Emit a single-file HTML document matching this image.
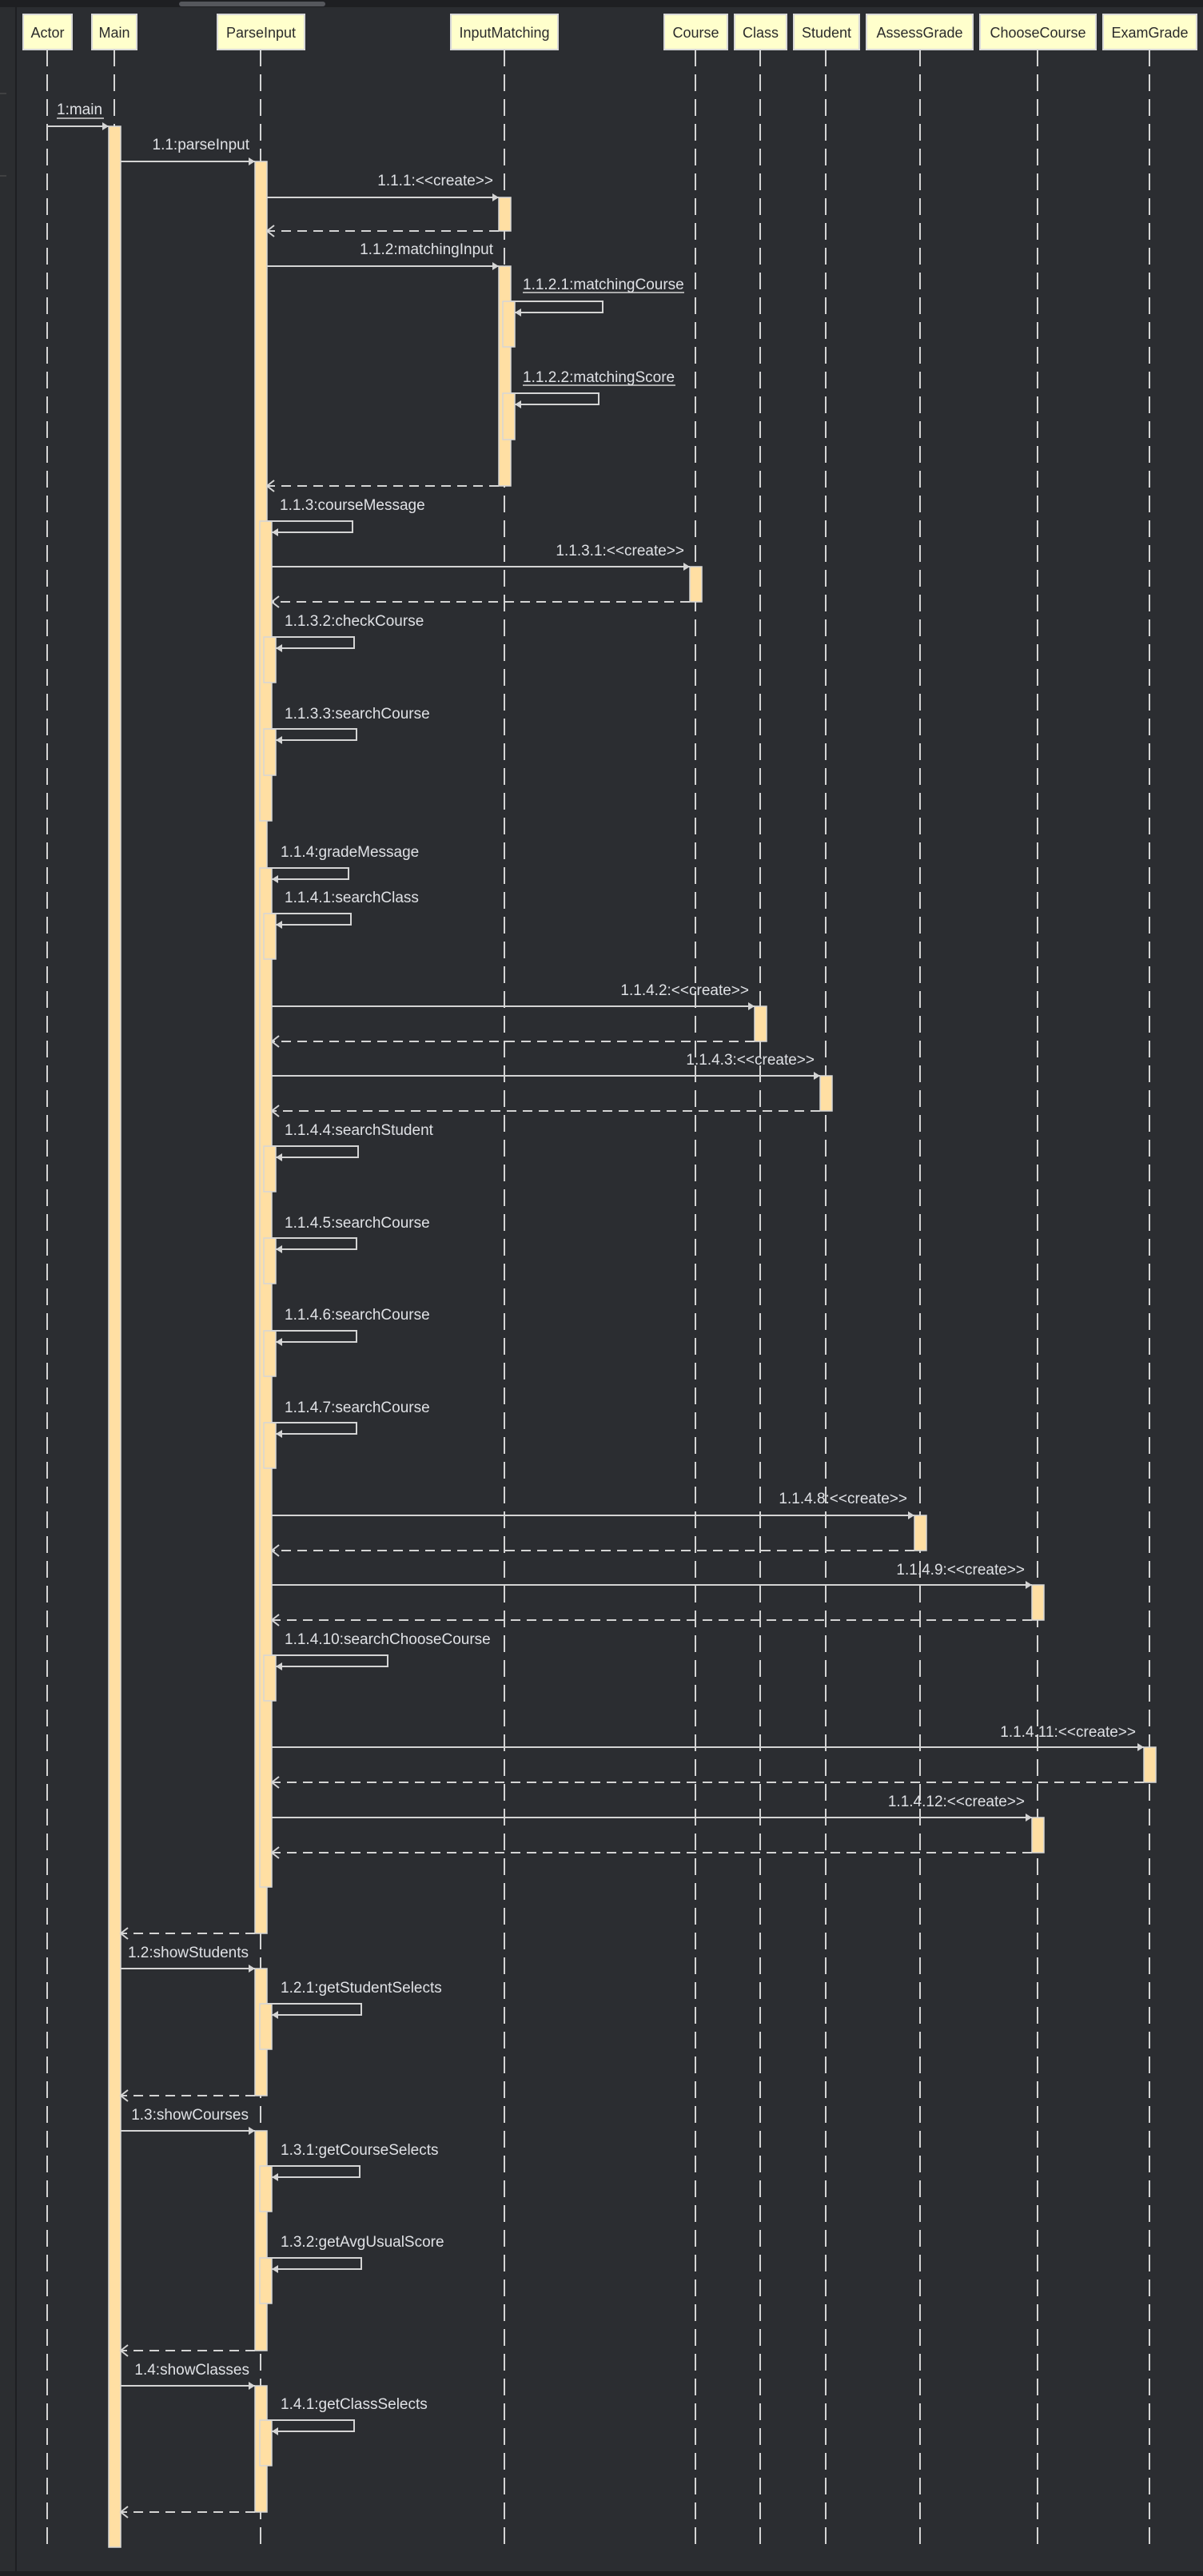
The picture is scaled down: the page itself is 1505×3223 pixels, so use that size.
<!DOCTYPE html>
<html><head><meta charset="utf-8"><style>
html,body{margin:0;padding:0;background:#2b2d31;}
svg{display:block;}
text{font-family:"Liberation Sans",Arial,sans-serif;}
.lbl{font-size:19px;fill:#dfe1e5;}
.hd{font-size:18px;fill:#2b2b2b;text-anchor:middle;}
.ll{stroke:#d4d4d4;stroke-width:2;stroke-dasharray:21 10;}
.box{fill:#ffffcc;stroke:#d8d8d8;stroke-width:2;}
.act{fill:#ffdfa3;stroke:#d6d6d6;stroke-width:1.5;}
.m{stroke:#d4d4d4;stroke-width:2;fill:none;}
.r{stroke:#d4d4d4;stroke-width:2;fill:none;stroke-dasharray:12 8;}
.ah{fill:#d4d4d4;}
.oa{stroke:#d4d4d4;stroke-width:2;fill:none;}
</style></head><body>
<svg width="1505" height="3223" viewBox="0 0 1505 3223" xmlns="http://www.w3.org/2000/svg">
<rect x="0" y="0" width="1505" height="3223" fill="#2b2d31"/>
<rect x="0" y="0" width="19" height="3223" fill="#2b2d30"/>
<rect x="19" y="8" width="2" height="3215" fill="#1e1f22"/>
<rect x="0" y="0" width="1505" height="9" fill="#1e1f22"/>
<rect x="224" y="2" width="183" height="6" rx="3" fill="#55575c"/>
<rect x="0" y="3217" width="1505" height="6" fill="#1e1f22"/>
<line x1="0" y1="117" x2="8" y2="117" stroke="#555" stroke-width="1"/>
<line x1="0" y1="220" x2="8" y2="220" stroke="#555" stroke-width="1"/>

<g class="ll">
<line x1="59" y1="62" x2="59" y2="3188"/>
<line x1="143" y1="62" x2="143" y2="3188"/>
<line x1="326" y1="62" x2="326" y2="3188"/>
<line x1="631" y1="62" x2="631" y2="3188"/>
<line x1="870" y1="62" x2="870" y2="3188"/>
<line x1="951" y1="62" x2="951" y2="3188"/>
<line x1="1033" y1="62" x2="1033" y2="3188"/>
<line x1="1151" y1="62" x2="1151" y2="3188"/>
<line x1="1298" y1="62" x2="1298" y2="3188"/>
<line x1="1438" y1="62" x2="1438" y2="3188"/>
</g>

<rect class="box" x="29" y="18" width="61" height="44"/><text class="hd" x="59.5" y="47">Actor</text>
<rect class="box" x="115" y="18" width="56" height="44"/><text class="hd" x="143" y="47">Main</text>
<rect class="box" x="272" y="18" width="109" height="44"/><text class="hd" x="326.5" y="47">ParseInput</text>
<rect class="box" x="564" y="18" width="134" height="44"/><text class="hd" x="631" y="47">InputMatching</text>
<rect class="box" x="831" y="18" width="79" height="44"/><text class="hd" x="870.5" y="47">Course</text>
<rect class="box" x="919" y="18" width="65" height="44"/><text class="hd" x="951.5" y="47">Class</text>
<rect class="box" x="993" y="18" width="82" height="44"/><text class="hd" x="1034" y="47">Student</text>
<rect class="box" x="1084" y="18" width="133" height="44"/><text class="hd" x="1150.5" y="47">AssessGrade</text>
<rect class="box" x="1226" y="18" width="145" height="44"/><text class="hd" x="1298.5" y="47">ChooseCourse</text>
<rect class="box" x="1380" y="18" width="117" height="44"/><text class="hd" x="1438.5" y="47">ExamGrade</text>

<rect class="act" x="136" y="158" width="15" height="3029"/>
<rect class="act" x="319" y="202" width="15" height="2217"/>
<rect class="act" x="319" y="2463" width="15" height="159"/>
<rect class="act" x="319" y="2666" width="15" height="275"/>
<rect class="act" x="319" y="2985" width="15" height="158"/>
<rect class="act" x="325" y="652" width="15" height="375"/>
<rect class="act" x="325" y="1086" width="15" height="1275"/>
<rect class="act" x="325" y="2507" width="15" height="57"/>
<rect class="act" x="325" y="2710" width="15" height="57"/>
<rect class="act" x="325" y="2825" width="15" height="57"/>
<rect class="act" x="325" y="3028" width="15" height="57"/>
<rect class="act" x="330" y="797" width="15" height="57"/>
<rect class="act" x="330" y="912" width="15" height="58"/>
<rect class="act" x="330" y="1143" width="15" height="57"/>
<rect class="act" x="330" y="1434" width="15" height="57"/>
<rect class="act" x="330" y="1549" width="15" height="57"/>
<rect class="act" x="330" y="1665" width="15" height="57"/>
<rect class="act" x="330" y="1780" width="15" height="57"/>
<rect class="act" x="330" y="2071" width="15" height="57"/>
<rect class="act" x="624" y="247" width="15" height="42"/>
<rect class="act" x="624" y="333" width="15" height="275"/>
<rect class="act" x="629" y="377" width="15" height="57"/>
<rect class="act" x="629" y="492" width="15" height="58"/>
<rect class="act" x="863" y="709" width="15" height="44"/>
<rect class="act" x="944" y="1259" width="15" height="44"/>
<rect class="act" x="1026" y="1346" width="15" height="44"/>
<rect class="act" x="1144" y="1896" width="15" height="44"/>
<rect class="act" x="1291" y="1983" width="15" height="44"/>
<rect class="act" x="1291" y="2274" width="15" height="44"/>
<rect class="act" x="1431" y="2186" width="15" height="44"/>

<g>
<text class="lbl" x="71" y="143">1:main</text><line x1="71" y1="148" x2="130" y2="148" stroke="#d4d4d4" stroke-width="1.5"/>
<line class="m" x1="59" y1="158" x2="136" y2="158"/><polygon class="ah" points="136,158 128,153 128,163"/>

<text class="lbl" x="312" y="187" text-anchor="end">1.1:parseInput</text>
<line class="m" x1="151" y1="202" x2="319" y2="202"/><polygon class="ah" points="319,202 311,197 311,207"/>

<text class="lbl" x="617" y="232" text-anchor="end">1.1.1:&lt;&lt;create&gt;&gt;</text>
<line class="m" x1="334" y1="247" x2="624" y2="247"/><polygon class="ah" points="624,247 616,242 616,252"/>
<line class="r" x1="624" y1="289" x2="334" y2="289"/><polyline class="oa" points="343,282 334,289 343,296"/>

<text class="lbl" x="617" y="318" text-anchor="end">1.1.2:matchingInput</text>
<line class="m" x1="334" y1="333" x2="624" y2="333"/><polygon class="ah" points="624,333 616,328 616,338"/>

<text class="lbl" x="654" y="362">1.1.2.1:matchingCourse</text><line x1="654" y1="366" x2="856" y2="366" stroke="#d4d4d4" stroke-width="1.5"/>
<polyline class="m" points="639,377 754,377 754,391 644,391"/><polygon class="ah" points="644,391 652,386 652,396"/>
<text class="lbl" x="654" y="478">1.1.2.2:matchingScore</text><line x1="654" y1="482" x2="845" y2="482" stroke="#d4d4d4" stroke-width="1.5"/>
<polyline class="m" points="639,492 749,492 749,506 644,506"/><polygon class="ah" points="644,506 652,501 652,511"/>
<line class="r" x1="624" y1="608" x2="334" y2="608"/><polyline class="oa" points="343,601 334,608 343,615"/>

<text class="lbl" x="350" y="638">1.1.3:courseMessage</text>
<polyline class="m" points="334,652 441,652 441,666 340,666"/><polygon class="ah" points="340,666 348,661 348,671"/>
<text class="lbl" x="856" y="695" text-anchor="end">1.1.3.1:&lt;&lt;create&gt;&gt;</text>
<line class="m" x1="340" y1="709" x2="863" y2="709"/><polygon class="ah" points="863,709 855,704 855,714"/>
<line class="r" x1="863" y1="753" x2="340" y2="753"/><polyline class="oa" points="349,746 340,753 349,760"/>
<text class="lbl" x="356" y="783">1.1.3.2:checkCourse</text>
<polyline class="m" points="340,797 443,797 443,811 345,811"/><polygon class="ah" points="345,811 353,806 353,816"/>
<text class="lbl" x="356" y="899">1.1.3.3:searchCourse</text>
<polyline class="m" points="340,912 446,912 446,926 345,926"/><polygon class="ah" points="345,926 353,921 353,931"/>

<text class="lbl" x="351" y="1072">1.1.4:gradeMessage</text>
<polyline class="m" points="334,1086 436,1086 436,1100 340,1100"/><polygon class="ah" points="340,1100 348,1095 348,1105"/>
<text class="lbl" x="356" y="1129">1.1.4.1:searchClass</text>
<polyline class="m" points="340,1143 439,1143 439,1157 345,1157"/><polygon class="ah" points="345,1157 353,1152 353,1162"/>
<text class="lbl" x="937" y="1245" text-anchor="end">1.1.4.2:&lt;&lt;create&gt;&gt;</text>
<line class="m" x1="340" y1="1259" x2="944" y2="1259"/><polygon class="ah" points="944,1259 936,1254 936,1264"/>
<line class="r" x1="944" y1="1303" x2="340" y2="1303"/><polyline class="oa" points="349,1296 340,1303 349,1310"/>
<text class="lbl" x="1019" y="1332" text-anchor="end">1.1.4.3:&lt;&lt;create&gt;&gt;</text>
<line class="m" x1="340" y1="1346" x2="1026" y2="1346"/><polygon class="ah" points="1026,1346 1018,1341 1018,1351"/>
<line class="r" x1="1026" y1="1390" x2="340" y2="1390"/><polyline class="oa" points="349,1383 340,1390 349,1397"/>
<text class="lbl" x="356" y="1420">1.1.4.4:searchStudent</text>
<polyline class="m" points="340,1434 448,1434 448,1448 345,1448"/><polygon class="ah" points="345,1448 353,1443 353,1453"/>
<text class="lbl" x="356" y="1536">1.1.4.5:searchCourse</text>
<polyline class="m" points="340,1549 446,1549 446,1563 345,1563"/><polygon class="ah" points="345,1563 353,1558 353,1568"/>
<text class="lbl" x="356" y="1651">1.1.4.6:searchCourse</text>
<polyline class="m" points="340,1665 446,1665 446,1679 345,1679"/><polygon class="ah" points="345,1679 353,1674 353,1684"/>
<text class="lbl" x="356" y="1767">1.1.4.7:searchCourse</text>
<polyline class="m" points="340,1780 446,1780 446,1794 345,1794"/><polygon class="ah" points="345,1794 353,1789 353,1799"/>
<text class="lbl" x="1135" y="1881" text-anchor="end">1.1.4.8:&lt;&lt;create&gt;&gt;</text>
<line class="m" x1="340" y1="1896" x2="1144" y2="1896"/><polygon class="ah" points="1144,1896 1136,1891 1136,1901"/>
<line class="r" x1="1144" y1="1940" x2="340" y2="1940"/><polyline class="oa" points="349,1933 340,1940 349,1947"/>
<text class="lbl" x="1282" y="1970" text-anchor="end">1.1.4.9:&lt;&lt;create&gt;&gt;</text>
<line class="m" x1="340" y1="1983" x2="1291" y2="1983"/><polygon class="ah" points="1291,1983 1283,1978 1283,1988"/>
<line class="r" x1="1291" y1="2027" x2="340" y2="2027"/><polyline class="oa" points="349,2020 340,2027 349,2034"/>
<text class="lbl" x="356" y="2057">1.1.4.10:searchChooseCourse</text>
<polyline class="m" points="340,2071 485,2071 485,2085 345,2085"/><polygon class="ah" points="345,2085 353,2080 353,2090"/>
<text class="lbl" x="1421" y="2173" text-anchor="end">1.1.4.11:&lt;&lt;create&gt;&gt;</text>
<line class="m" x1="340" y1="2186" x2="1431" y2="2186"/><polygon class="ah" points="1431,2186 1423,2181 1423,2191"/>
<line class="r" x1="1431" y1="2230" x2="340" y2="2230"/><polyline class="oa" points="349,2223 340,2230 349,2237"/>
<text class="lbl" x="1282" y="2260" text-anchor="end">1.1.4.12:&lt;&lt;create&gt;&gt;</text>
<line class="m" x1="340" y1="2274" x2="1291" y2="2274"/><polygon class="ah" points="1291,2274 1283,2269 1283,2279"/>
<line class="r" x1="1291" y1="2318" x2="340" y2="2318"/><polyline class="oa" points="349,2311 340,2318 349,2325"/>

<line class="r" x1="319" y1="2419" x2="151" y2="2419"/><polyline class="oa" points="160,2412 151,2419 160,2426"/>

<text class="lbl" x="311" y="2449" text-anchor="end">1.2:showStudents</text>
<line class="m" x1="151" y1="2463" x2="319" y2="2463"/><polygon class="ah" points="319,2463 311,2458 311,2468"/>
<text class="lbl" x="351" y="2493">1.2.1:getStudentSelects</text>
<polyline class="m" points="334,2507 452,2507 452,2521 340,2521"/><polygon class="ah" points="340,2521 348,2516 348,2526"/>
<line class="r" x1="319" y1="2622" x2="151" y2="2622"/><polyline class="oa" points="160,2615 151,2622 160,2629"/>

<text class="lbl" x="311" y="2652" text-anchor="end">1.3:showCourses</text>
<line class="m" x1="151" y1="2666" x2="319" y2="2666"/><polygon class="ah" points="319,2666 311,2661 311,2671"/>
<text class="lbl" x="351" y="2696">1.3.1:getCourseSelects</text>
<polyline class="m" points="334,2710 450,2710 450,2724 340,2724"/><polygon class="ah" points="340,2724 348,2719 348,2729"/>
<text class="lbl" x="351" y="2811">1.3.2:getAvgUsualScore</text>
<polyline class="m" points="334,2825 452,2825 452,2839 340,2839"/><polygon class="ah" points="340,2839 348,2834 348,2844"/>
<line class="r" x1="319" y1="2941" x2="151" y2="2941"/><polyline class="oa" points="160,2934 151,2941 160,2948"/>

<text class="lbl" x="312" y="2971" text-anchor="end">1.4:showClasses</text>
<line class="m" x1="151" y1="2985" x2="319" y2="2985"/><polygon class="ah" points="319,2985 311,2980 311,2990"/>
<text class="lbl" x="351" y="3014">1.4.1:getClassSelects</text>
<polyline class="m" points="334,3028 443,3028 443,3042 340,3042"/><polygon class="ah" points="340,3042 348,3037 348,3047"/>
<line class="r" x1="319" y1="3143" x2="151" y2="3143"/><polyline class="oa" points="160,3136 151,3143 160,3150"/>
</g>
</svg>
</body></html>
